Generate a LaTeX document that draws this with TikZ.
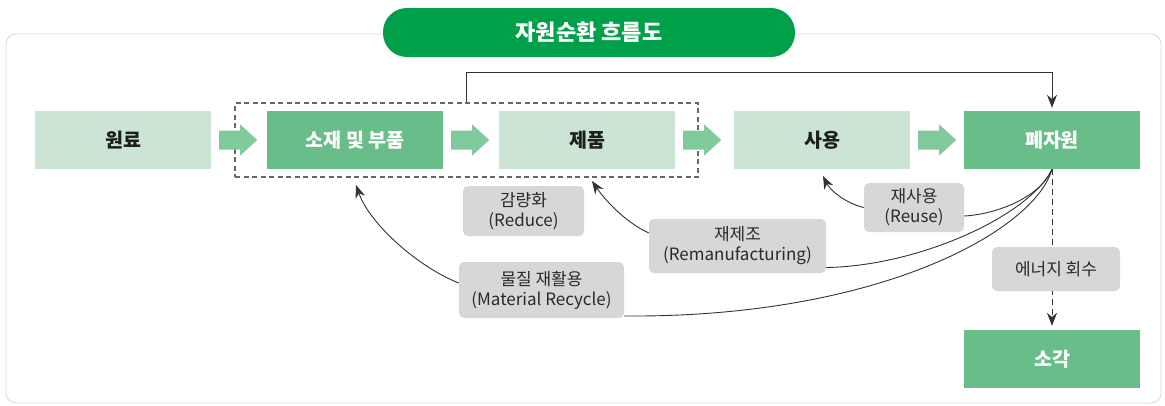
\documentclass[tikz,border=0pt]{standalone}
\usepackage{fontspec}
\setmainfont{Noto Sans CJK KR}
\usetikzlibrary{calc,arrows.meta,backgrounds}
\definecolor{lightg}{HTML}{CBE4D3}
\definecolor{midg}{HTML}{69BD89}
\definecolor{arrg}{HTML}{80C99B}
\definecolor{titleg}{HTML}{00A04B}
\definecolor{lblgray}{HTML}{D6D7D9}
\definecolor{lbltext}{HTML}{2A2A2A}
\definecolor{darktext}{HTML}{1E1E1E}
\definecolor{linec}{HTML}{333333}
\definecolor{dashc}{HTML}{666666}
\definecolor{framec}{HTML}{DCDCDC}
\begin{document}
\begin{tikzpicture}[x=1pt,y=1pt,
  box/.style={minimum width=176pt, minimum height=58pt, inner sep=0pt, font=\fontsize{19.5}{21}\selectfont\bfseries},
  lightbox/.style={box, fill=lightg, text=darktext},
  darkbox/.style={box, fill=midg, text=white},
  lbl/.style={fill=lblgray, rounded corners=5pt, inner sep=0pt, align=center, text=lbltext, font=\fontsize{17}{20}\selectfont},
  conn/.style={draw=linec, line width=0.9pt},
  tipped/.style={conn, -{Stealth[length=13pt,width=10pt]}},
  blockarrow/.style={fill=arrg},
]
\useasboundingbox (0,0) rectangle (1165,-405);
% frame
\draw[framec, line width=0.9pt, rounded corners=10pt] (6,-34) rectangle (1161,-403);
% title
\node[fill=titleg, rounded corners=24pt, minimum width=412pt, minimum height=49pt, inner sep=0pt, text=white, font=\fontsize{22}{26}\selectfont\bfseries] (title) at (589,-32.5) {자원순환 흐름도};
% boxes
\node[lightbox] (wr) at (123,-140) {원료};
\node[darkbox] (sj) at (355,-140) {소재 및 부품};
\node[lightbox] (jp) at (587,-140) {제품};
\node[lightbox] (sy) at (822,-140) {사용};
\node[darkbox] (pj) at (1052,-140) {폐자원};
\node[darkbox] (sg) at (1052,-359) {소각};
% group dashed box
\node[draw=dashc, line width=1.6pt, dash pattern=on 5pt off 3.5pt, minimum width=463pt, minimum height=74pt, inner sep=0pt] (grp) at (466.5,-140) {};
% block arrows
\foreach \a in {wr,sj,jp,sy}{
  \fill[blockarrow] ($(\a.east)+(8,9.5)$) -- ++(21,0) -- ++(0,6) -- ++(17,-15.5) -- ++(-17,-15.5) -- ++(0,6) -- ++(-21,0) -- cycle;
}
% top connector
\draw[tipped] (grp.north) -- ++(0,30) -| ([yshift=3pt]pj.north);
% labels
\node[lbl, minimum width=121pt, minimum height=50pt] (rd) at (523.5,-211) {감량화\\(Reduce)};
\node[lbl, minimum width=177pt, minimum height=54pt] (rm) at (737.5,-246) {재제조\\(Remanufacturing)};
\node[lbl, minimum width=165pt, minimum height=56pt] (rc) at (541.5,-290) {물질 재활용\\(Material Recycle)};
\node[lbl, minimum width=100pt, minimum height=49pt] (ru) at (914,-207.5) {재사용\\(Reuse)};
\node[lbl, minimum width=128pt, minimum height=44pt] (er) at (1056,-269) {에너지 회수};
% targets
\coordinate (tu) at (823,-176);
\coordinate (tm) at (592,-181);
\coordinate (tc) at (356,-185);
\begin{scope}[on background layer]
% energy recovery dashed
\draw[conn, dash pattern=on 6pt off 4pt, -{Stealth[length=13pt,width=10pt]}] (pj.south) -- ([yshift=4pt]sg.north);
% curves from 폐자원
\draw[conn] (pj.south) .. controls (1042,-195) and (1000,-214) .. ([yshift=-8.5pt]ru.east);
\draw[conn] (pj.south) .. controls (1030,-215) and (920,-266) .. ([yshift=-21.5pt]rm.east);
\draw[conn] (pj.south) .. controls (1035,-230) and (880,-318) .. ([yshift=-26pt]rc.east);
\end{scope}
% curves to targets
\draw[tipped] (ru.west) .. controls (845,-203) and (830,-190) .. (tu);
\draw[tipped] ([yshift=13pt]rm.west) .. controls (625,-222) and (605,-200) .. (tm);
\draw[tipped] ([yshift=7pt]rc.west) .. controls (420,-268) and (370,-225) .. (tc);
\end{tikzpicture}
\end{document}
